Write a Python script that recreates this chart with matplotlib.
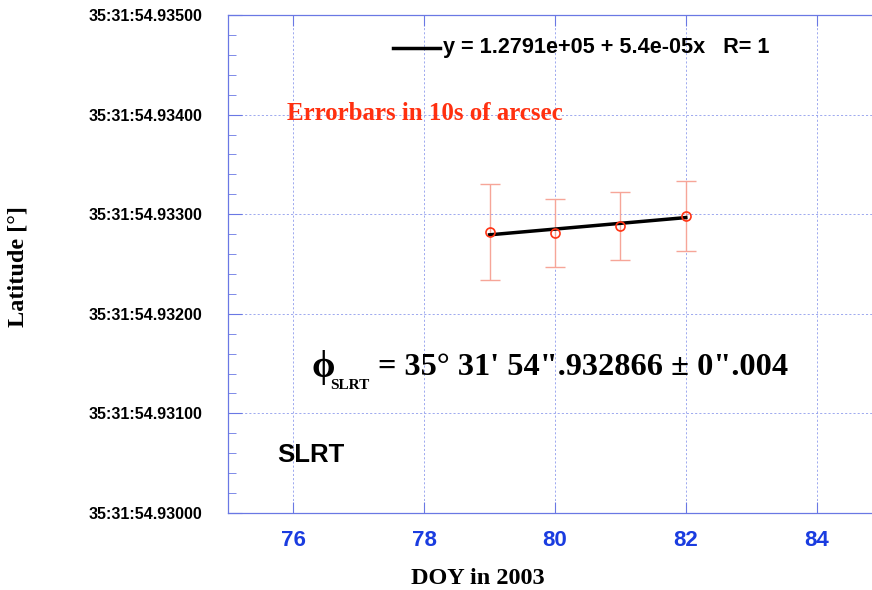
import matplotlib
matplotlib.use("Agg")
import matplotlib.pyplot as plt
from matplotlib.ticker import MultipleLocator, FuncFormatter

# latitude seconds part (35:31:SS.sssss)
doy = [79, 80, 81, 82]
lat_sec = [54.93282, 54.93281, 54.932883, 54.932983]
lat_err = [0.00048, 0.000345, 0.00034, 0.00035]
fit_x = [79, 82]
fit_y = [54.932793, 54.932966]

x_ticks = [76, 78, 80, 82, 84]

BLUE = "#6a78e4"
GRID = "#8e9bec"
SERIF = ["Liberation Serif", "DejaVu Serif"]
SANS = ["Liberation Sans", "DejaVu Sans"]

fig = plt.figure(figsize=(8.72, 5.90), dpi=100)
W, H = 872, 590
ax = fig.add_axes([228 / W, 1 - 513 / H, 654 / W, 498 / H])

ax.errorbar(doy, lat_sec, yerr=lat_err, fmt="none", ecolor="#f6a598",
            elinewidth=1.0, capsize=7, capthick=1.0, zorder=2)
ax.plot(doy, lat_sec, "o", mfc="none", mec="#ff3414", ms=6.5, mew=1.2, zorder=4)
ax.plot(fit_x, fit_y, color="black", lw=2.5, zorder=3)

ax.set_xlim(75, 85)
ax.set_ylim(54.930, 54.935)
ax.set_xticks(x_ticks)
ax.yaxis.set_major_locator(MultipleLocator(0.001))
ax.yaxis.set_minor_locator(MultipleLocator(0.0002))
ax.yaxis.set_major_formatter(FuncFormatter(lambda v, p: f"35:31:{v:.5f}"))

ax.grid(True, which="major", color=GRID, ls=(0, (2.5, 2.5)), lw=0.6)
ax.set_axisbelow(True)
for s in ax.spines.values():
    s.set_color(BLUE)
    s.set_linewidth(0.9)

ax.tick_params(axis="y", which="major", direction="in", length=10, color=BLUE,
               pad=18.5, labelsize=11.5)
ax.tick_params(axis="y", which="minor", direction="in", length=6, color=BLUE)
ax.tick_params(axis="x", which="major", direction="in", length=8, color=BLUE,
               top=True, pad=12, labelsize=16, labelcolor="#1a3ce0")
for lb in ax.get_yticklabels():
    lb.set_family(SANS)
    lb.set_fontweight("bold")
for lb in ax.get_xticklabels():
    lb.set_family(SANS)
    lb.set_fontweight("bold")

fig.text(478 / W, 1 - 578 / H, "DOY in 2003", family=SERIF, fontweight="bold",
         fontsize=17.5, ha="center", va="center")
fig.text(18 / W, 1 - 267 / H, "Latitude [°]", family=SERIF, fontweight="bold",
         fontsize=17.5, ha="center", va="center", rotation=90)

# legend line and equation
fig.lines.append(plt.Line2D([393 / W, 440 / W], [1 - 48 / H, 1 - 48 / H],
                            color="black", lw=2.5, transform=fig.transFigure))
fig.text(443 / W, 1 - 48 / H, "y = 1.2791e+05 + 5.4e-05x   R= 1", family=SANS,
         fontweight="bold", fontsize=15.6, ha="left", va="center")

fig.text(287 / W, 1 - 120 / H, "Errorbars in 10s of arcsec", family=SERIF,
         fontweight="bold", fontsize=18, color="#ff3010", ha="left", va="baseline")

fig.text(277 / W, 1 - 462 / H, "SLRT", family=SANS, fontweight="bold",
         fontsize=18.5, ha="left", va="baseline")

fig.text(311 / W, 1 - 377 / H, "\u03d5", family=SERIF, fontweight="bold",
         fontsize=27, ha="left", va="baseline")
fig.text(330 / W, 1 - 389 / H, "SLRT", family=SERIF, fontweight="bold",
         fontsize=11, ha="left", va="baseline")
fig.text(378 / W, 1 - 375 / H, "= 35° 31' 54\".932866 ± 0\".004", family=SERIF,
         fontweight="bold", fontsize=23.3, ha="left", va="baseline")

fig.savefig("out.png", dpi=100)
